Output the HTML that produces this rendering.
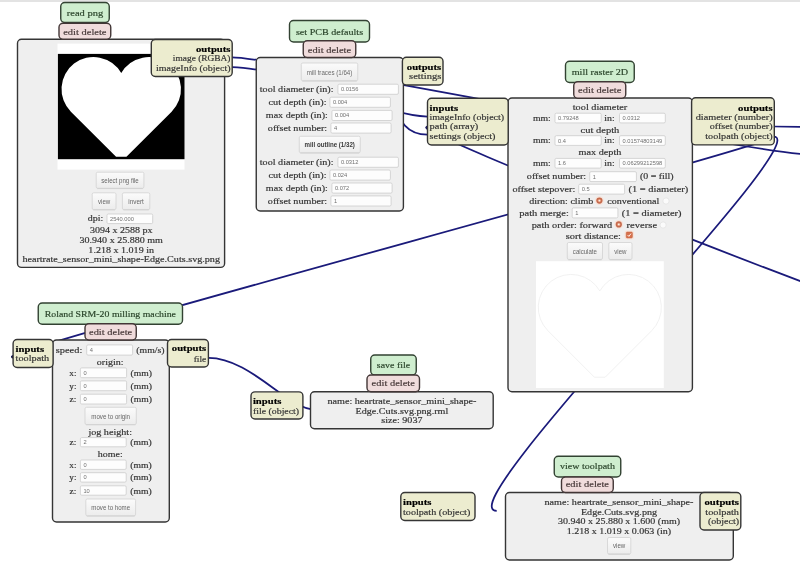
<!DOCTYPE html>
<html><head><meta charset="utf-8"><title>mods</title>
<style>html,body{margin:0;padding:0;width:800px;height:563px;overflow:hidden;background:#fff;}
body{position:relative;font-family:"Liberation Serif",serif;}</style></head>
<body>
<svg width="800" height="563" viewBox="0 0 800 563" style="position:absolute;left:0;top:0;will-change:transform">
<defs><linearGradient id="btn" x1="0" y1="0" x2="0" y2="1"><stop offset="0" stop-color="#fbfbfb"/><stop offset="1" stop-color="#ececec"/></linearGradient><radialGradient id="rad" cx="0.5" cy="0.5" r="0.5"><stop offset="0" stop-color="#f6f0ea"/><stop offset="0.45" stop-color="#8a5a40"/><stop offset="0.6" stop-color="#e07a4a"/><stop offset="1" stop-color="#e8946a"/></radialGradient></defs>
<rect x="0" y="0" width="800" height="563" fill="#fff"/>
<rect x="0" y="0" width="800" height="2" fill="#e3e3e3"/>
<path d="M232,57.3 C278.8,57.3 754.7,155.1 817.6,155.1" fill="none" stroke="#1a1a7a" stroke-width="1.75"/>
<path d="M232,67 C285.2,67 384.1,116.5 427.5,116.5" fill="none" stroke="#1a1a7a" stroke-width="1.75"/>
<path d="M402.5,77 C394.3,77 386.0,134.7 427.5,134.7" fill="none" stroke="#1a1a7a" stroke-width="1.75"/>
<path d="M773.5,136.5 C805.7,136.5 -23.5,357 13,357" fill="none" stroke="#1a1a7a" stroke-width="1.75"/>
<path d="M773.5,136.5 C819.5,136.5 444.5,510.8 496.7,510.8" fill="none" stroke="#1a1a7a" stroke-width="1.75"/>
<path d="M901.2,316.4 C882.7,316.4 400.8,127.4 427.5,127.4" fill="none" stroke="#1a1a7a" stroke-width="1.75"/>
<circle cx="427.0" cy="127.3" r="1.5" fill="#1a1a60"/>
<circle cx="12.9" cy="357.0" r="1.5" fill="#101030"/>
<path d="M773,126.5 C785,126.6 795,126.8 805,127" fill="none" stroke="#1a1a7a" stroke-width="1.75"/>
<path d="M208.4,357.75 C250.7,357.75 287.3,409.5 315,409.5" fill="none" stroke="#1a1a7a" stroke-width="1.75"/>
<rect x="17.50" y="39.25" width="207.10" height="228.15" rx="4" ry="4" fill="#efefef" stroke="#353535" stroke-width="1.4"/>
<rect x="57.5" y="43.6" width="127" height="126" fill="#fff"/>
<rect x="57.9" y="53.9" width="126.6" height="105.3" fill="#000"/>
<path d="M116.05,156.80 L70.87,111.63 A32.00,32.00 0 1 1 121.25,73.06 A32.00,32.00 0 1 1 171.63,111.63 L126.45,156.80 Z" fill="#fff" />
<rect x="96.20" y="172.20" width="47.70" height="16.10" rx="1.5" fill="url(#btn)" stroke="#d2d2d2" stroke-width="0.8"/>
<line x1="97.20" y1="188.60" x2="142.90" y2="188.60" stroke="#cfcfcf" stroke-width="0.8"/>
<text x="120.05" y="182.95" text-anchor="middle" font-family="Liberation Sans" font-size="6.30" fill="#666" textLength="37.49" lengthAdjust="spacingAndGlyphs">select png file</text>
<rect x="92.20" y="192.80" width="23.80" height="16.80" rx="1.5" fill="url(#btn)" stroke="#d2d2d2" stroke-width="0.8"/>
<line x1="93.20" y1="209.90" x2="115.00" y2="209.90" stroke="#cfcfcf" stroke-width="0.8"/>
<text x="104.10" y="203.90" text-anchor="middle" font-family="Liberation Sans" font-size="6.30" fill="#666" textLength="12.27" lengthAdjust="spacingAndGlyphs">view</text>
<rect x="122.40" y="192.80" width="27.40" height="16.80" rx="1.5" fill="url(#btn)" stroke="#d2d2d2" stroke-width="0.8"/>
<line x1="123.40" y1="209.90" x2="148.80" y2="209.90" stroke="#cfcfcf" stroke-width="0.8"/>
<text x="136.10" y="203.90" text-anchor="middle" font-family="Liberation Sans" font-size="6.30" fill="#666" textLength="15.57" lengthAdjust="spacingAndGlyphs">invert</text>
<text x="103.20" y="221.10" text-anchor="end" font-family="Liberation Serif" font-size="9.00" fill="#333" stroke="#333" stroke-width="0.18" textLength="15.50" lengthAdjust="spacingAndGlyphs">dpi:</text>
<rect x="107.00" y="214.00" width="45.70" height="9.60" rx="1.3" fill="#fdfdfd" stroke="#cacaca" stroke-width="0.75"/>
<text x="110.00" y="220.80" text-anchor="start" font-family="Liberation Sans" font-size="5.40" fill="#707070" textLength="23.86" lengthAdjust="spacingAndGlyphs">2540.000</text>
<text x="121.20" y="233.40" text-anchor="middle" font-family="Liberation Serif" font-size="9.00" fill="#333" stroke="#333" stroke-width="0.18" textLength="62.49" lengthAdjust="spacingAndGlyphs">3094 x 2588 px</text>
<text x="121.20" y="242.95" text-anchor="middle" font-family="Liberation Serif" font-size="9.00" fill="#333" stroke="#333" stroke-width="0.18" textLength="83.30" lengthAdjust="spacingAndGlyphs">30.940 x 25.880 mm</text>
<text x="121.20" y="252.50" text-anchor="middle" font-family="Liberation Serif" font-size="9.00" fill="#333" stroke="#333" stroke-width="0.18" textLength="65.66" lengthAdjust="spacingAndGlyphs">1.218 x 1.019 in</text>
<text x="121.20" y="262.05" text-anchor="middle" font-family="Liberation Serif" font-size="9.00" fill="#333" stroke="#333" stroke-width="0.18" textLength="197.60" lengthAdjust="spacingAndGlyphs">heartrate_sensor_mini_shape-Edge.Cuts.svg.png</text>
<rect x="60.75" y="2.50" width="48.50" height="20.00" rx="4" ry="4" fill="#cfeecf" stroke="#324232" stroke-width="1.4"/>
<text x="85.00" y="16.40" text-anchor="middle" font-family="Liberation Serif" font-size="9.00" fill="#2b452b" stroke="#2b452b" stroke-width="0.18" textLength="36.39" lengthAdjust="spacingAndGlyphs">read png</text>
<rect x="59.00" y="23.25" width="51.75" height="16.00" rx="4" ry="4" fill="#f0dcdc" stroke="#423636" stroke-width="1.4"/>
<text x="84.88" y="34.90" text-anchor="middle" font-family="Liberation Serif" font-size="9.00" fill="#463838" stroke="#463838" stroke-width="0.18" textLength="43.27" lengthAdjust="spacingAndGlyphs">edit delete</text>
<rect x="151.30" y="39.50" width="80.90" height="37.00" rx="4" ry="4" fill="#ececcf" stroke="#353535" stroke-width="1.4"/>
<text x="230.50" y="51.90" text-anchor="end" font-family="Liberation Serif" font-size="9.00" font-weight="bold" fill="#000" stroke="#000" stroke-width="0.18" textLength="34.46" lengthAdjust="spacingAndGlyphs">outputs</text>
<text x="230.50" y="61.30" text-anchor="end" font-family="Liberation Serif" font-size="9.00" fill="#333" stroke="#333" stroke-width="0.18" textLength="57.63" lengthAdjust="spacingAndGlyphs">image (RGBA)</text>
<text x="230.50" y="70.60" text-anchor="end" font-family="Liberation Serif" font-size="9.00" fill="#333" stroke="#333" stroke-width="0.18" textLength="74.49" lengthAdjust="spacingAndGlyphs">imageInfo (object)</text>
<rect x="256.25" y="57.50" width="147.15" height="153.50" rx="4" ry="4" fill="#efefef" stroke="#353535" stroke-width="1.4"/>
<rect x="301.25" y="63.00" width="56.50" height="17.75" rx="1.5" fill="url(#btn)" stroke="#d2d2d2" stroke-width="0.8"/>
<line x1="302.25" y1="81.05" x2="356.75" y2="81.05" stroke="#cfcfcf" stroke-width="0.8"/>
<text x="329.50" y="74.58" text-anchor="middle" font-family="Liberation Sans" font-size="6.30" fill="#6a6a6a" textLength="45.68" lengthAdjust="spacingAndGlyphs">mill traces (1/64)</text>
<text x="333.50" y="91.80" text-anchor="end" font-family="Liberation Serif" font-size="9.00" fill="#333" stroke="#333" stroke-width="0.18" textLength="73.69" lengthAdjust="spacingAndGlyphs">tool diameter (in):</text>
<rect x="337.90" y="84.20" width="60.50" height="10.10" rx="1.3" fill="#fdfdfd" stroke="#cacaca" stroke-width="0.75"/>
<text x="340.90" y="91.25" text-anchor="start" font-family="Liberation Sans" font-size="5.40" fill="#707070" textLength="17.50" lengthAdjust="spacingAndGlyphs">0.0156</text>
<text x="326.50" y="104.80" text-anchor="end" font-family="Liberation Serif" font-size="9.00" fill="#333" stroke="#333" stroke-width="0.18" textLength="57.93" lengthAdjust="spacingAndGlyphs">cut depth (in):</text>
<rect x="329.90" y="97.20" width="60.50" height="10.10" rx="1.3" fill="#fdfdfd" stroke="#cacaca" stroke-width="0.75"/>
<text x="332.90" y="104.25" text-anchor="start" font-family="Liberation Sans" font-size="5.40" fill="#707070" textLength="14.31" lengthAdjust="spacingAndGlyphs">0.004</text>
<text x="327.80" y="118.00" text-anchor="end" font-family="Liberation Serif" font-size="9.00" fill="#333" stroke="#333" stroke-width="0.18" textLength="61.95" lengthAdjust="spacingAndGlyphs">max depth (in):</text>
<rect x="331.90" y="110.40" width="60.20" height="10.10" rx="1.3" fill="#fdfdfd" stroke="#cacaca" stroke-width="0.75"/>
<text x="334.90" y="117.45" text-anchor="start" font-family="Liberation Sans" font-size="5.40" fill="#707070" textLength="14.31" lengthAdjust="spacingAndGlyphs">0.004</text>
<text x="327.20" y="130.60" text-anchor="end" font-family="Liberation Serif" font-size="9.00" fill="#333" stroke="#333" stroke-width="0.18" textLength="59.36" lengthAdjust="spacingAndGlyphs">offset number:</text>
<rect x="330.90" y="123.00" width="60.20" height="10.10" rx="1.3" fill="#fdfdfd" stroke="#cacaca" stroke-width="0.75"/>
<text x="333.90" y="130.05" text-anchor="start" font-family="Liberation Sans" font-size="5.40" fill="#707070" textLength="3.18" lengthAdjust="spacingAndGlyphs">4</text>
<rect x="299.25" y="136.25" width="61.00" height="16.50" rx="1.5" fill="url(#btn)" stroke="#d2d2d2" stroke-width="0.8"/>
<line x1="300.25" y1="153.05" x2="359.25" y2="153.05" stroke="#cfcfcf" stroke-width="0.8"/>
<text x="329.75" y="147.20" text-anchor="middle" font-family="Liberation Sans" font-size="6.30" font-weight="bold" fill="#3a3a3a" textLength="50.30" lengthAdjust="spacingAndGlyphs">mill outline (1/32)</text>
<text x="333.50" y="164.80" text-anchor="end" font-family="Liberation Serif" font-size="9.00" fill="#333" stroke="#333" stroke-width="0.18" textLength="73.69" lengthAdjust="spacingAndGlyphs">tool diameter (in):</text>
<rect x="337.90" y="157.20" width="60.50" height="10.10" rx="1.3" fill="#fdfdfd" stroke="#cacaca" stroke-width="0.75"/>
<text x="340.90" y="164.25" text-anchor="start" font-family="Liberation Sans" font-size="5.40" fill="#707070" textLength="17.50" lengthAdjust="spacingAndGlyphs">0.0312</text>
<text x="326.50" y="177.60" text-anchor="end" font-family="Liberation Serif" font-size="9.00" fill="#333" stroke="#333" stroke-width="0.18" textLength="57.93" lengthAdjust="spacingAndGlyphs">cut depth (in):</text>
<rect x="329.90" y="170.00" width="60.50" height="10.10" rx="1.3" fill="#fdfdfd" stroke="#cacaca" stroke-width="0.75"/>
<text x="332.90" y="177.05" text-anchor="start" font-family="Liberation Sans" font-size="5.40" fill="#707070" textLength="14.31" lengthAdjust="spacingAndGlyphs">0.024</text>
<text x="327.80" y="190.60" text-anchor="end" font-family="Liberation Serif" font-size="9.00" fill="#333" stroke="#333" stroke-width="0.18" textLength="61.95" lengthAdjust="spacingAndGlyphs">max depth (in):</text>
<rect x="331.90" y="183.00" width="60.20" height="10.10" rx="1.3" fill="#fdfdfd" stroke="#cacaca" stroke-width="0.75"/>
<text x="334.90" y="190.05" text-anchor="start" font-family="Liberation Sans" font-size="5.40" fill="#707070" textLength="14.31" lengthAdjust="spacingAndGlyphs">0.072</text>
<text x="327.20" y="203.50" text-anchor="end" font-family="Liberation Serif" font-size="9.00" fill="#333" stroke="#333" stroke-width="0.18" textLength="59.36" lengthAdjust="spacingAndGlyphs">offset number:</text>
<rect x="330.90" y="195.90" width="60.20" height="10.10" rx="1.3" fill="#fdfdfd" stroke="#cacaca" stroke-width="0.75"/>
<text x="333.90" y="202.95" text-anchor="start" font-family="Liberation Sans" font-size="5.40" fill="#707070" textLength="3.18" lengthAdjust="spacingAndGlyphs">1</text>
<rect x="289.50" y="20.50" width="80.00" height="21.50" rx="4" ry="4" fill="#cfeecf" stroke="#324232" stroke-width="1.4"/>
<text x="329.50" y="34.90" text-anchor="middle" font-family="Liberation Serif" font-size="9.00" fill="#2b452b" stroke="#2b452b" stroke-width="0.18" textLength="67.14" lengthAdjust="spacingAndGlyphs">set PCB defaults</text>
<rect x="303.25" y="40.75" width="52.50" height="16.75" rx="4" ry="4" fill="#f0dcdc" stroke="#423636" stroke-width="1.4"/>
<text x="329.50" y="52.60" text-anchor="middle" font-family="Liberation Serif" font-size="9.00" fill="#463838" stroke="#463838" stroke-width="0.18" textLength="43.27" lengthAdjust="spacingAndGlyphs">edit delete</text>
<rect x="402.40" y="57.20" width="40.60" height="27.80" rx="4" ry="4" fill="#ececcf" stroke="#353535" stroke-width="1.4"/>
<text x="441.30" y="70.10" text-anchor="end" font-family="Liberation Serif" font-size="9.00" font-weight="bold" fill="#000" stroke="#000" stroke-width="0.18" textLength="34.46" lengthAdjust="spacingAndGlyphs">outputs</text>
<text x="441.30" y="79.40" text-anchor="end" font-family="Liberation Serif" font-size="9.00" fill="#333" stroke="#333" stroke-width="0.18" textLength="32.21" lengthAdjust="spacingAndGlyphs">settings</text>
<rect x="508.00" y="98.00" width="184.40" height="293.80" rx="4" ry="4" fill="#efefef" stroke="#353535" stroke-width="1.4"/>
<text x="600.00" y="110.40" text-anchor="middle" font-family="Liberation Serif" font-size="9.00" fill="#333" stroke="#333" stroke-width="0.18" textLength="54.49" lengthAdjust="spacingAndGlyphs">tool diameter</text>
<text x="600.00" y="132.90" text-anchor="middle" font-family="Liberation Serif" font-size="9.00" fill="#333" stroke="#333" stroke-width="0.18" textLength="38.73" lengthAdjust="spacingAndGlyphs">cut depth</text>
<text x="600.00" y="155.40" text-anchor="middle" font-family="Liberation Serif" font-size="9.00" fill="#333" stroke="#333" stroke-width="0.18" textLength="42.76" lengthAdjust="spacingAndGlyphs">max depth</text>
<text x="550.80" y="120.80" text-anchor="end" font-family="Liberation Serif" font-size="9.00" fill="#333" stroke="#333" stroke-width="0.18" textLength="17.87" lengthAdjust="spacingAndGlyphs">mm:</text>
<rect x="555.00" y="113.20" width="46.20" height="9.70" rx="1.3" fill="#fdfdfd" stroke="#cacaca" stroke-width="0.75"/>
<text x="558.00" y="120.05" text-anchor="start" font-family="Liberation Sans" font-size="5.40" fill="#707070" textLength="20.68" lengthAdjust="spacingAndGlyphs">0.79248</text>
<text x="604.30" y="120.80" text-anchor="start" font-family="Liberation Serif" font-size="9.00" fill="#333" stroke="#333" stroke-width="0.18" textLength="10.41" lengthAdjust="spacingAndGlyphs">in:</text>
<rect x="619.50" y="113.20" width="45.80" height="9.70" rx="1.3" fill="#fdfdfd" stroke="#cacaca" stroke-width="0.75"/>
<text x="622.50" y="120.05" text-anchor="start" font-family="Liberation Sans" font-size="5.40" fill="#707070" textLength="17.50" lengthAdjust="spacingAndGlyphs">0.0312</text>
<text x="550.80" y="143.30" text-anchor="end" font-family="Liberation Serif" font-size="9.00" fill="#333" stroke="#333" stroke-width="0.18" textLength="17.87" lengthAdjust="spacingAndGlyphs">mm:</text>
<rect x="555.00" y="135.70" width="46.20" height="9.70" rx="1.3" fill="#fdfdfd" stroke="#cacaca" stroke-width="0.75"/>
<text x="558.00" y="142.55" text-anchor="start" font-family="Liberation Sans" font-size="5.40" fill="#707070" textLength="7.95" lengthAdjust="spacingAndGlyphs">0.4</text>
<text x="604.30" y="143.30" text-anchor="start" font-family="Liberation Serif" font-size="9.00" fill="#333" stroke="#333" stroke-width="0.18" textLength="10.41" lengthAdjust="spacingAndGlyphs">in:</text>
<rect x="619.50" y="135.70" width="45.80" height="9.70" rx="1.3" fill="#fdfdfd" stroke="#cacaca" stroke-width="0.75"/>
<text x="622.50" y="142.55" text-anchor="start" font-family="Liberation Sans" font-size="5.40" fill="#707070" textLength="39.76" lengthAdjust="spacingAndGlyphs">0.01574803149</text>
<text x="550.80" y="166.00" text-anchor="end" font-family="Liberation Serif" font-size="9.00" fill="#333" stroke="#333" stroke-width="0.18" textLength="17.87" lengthAdjust="spacingAndGlyphs">mm:</text>
<rect x="555.00" y="158.40" width="46.20" height="9.70" rx="1.3" fill="#fdfdfd" stroke="#cacaca" stroke-width="0.75"/>
<text x="558.00" y="165.25" text-anchor="start" font-family="Liberation Sans" font-size="5.40" fill="#707070" textLength="7.95" lengthAdjust="spacingAndGlyphs">1.6</text>
<text x="604.30" y="166.00" text-anchor="start" font-family="Liberation Serif" font-size="9.00" fill="#333" stroke="#333" stroke-width="0.18" textLength="10.41" lengthAdjust="spacingAndGlyphs">in:</text>
<rect x="619.50" y="158.40" width="45.80" height="9.70" rx="1.3" fill="#fdfdfd" stroke="#cacaca" stroke-width="0.75"/>
<text x="622.50" y="165.25" text-anchor="start" font-family="Liberation Sans" font-size="5.40" fill="#707070" textLength="39.76" lengthAdjust="spacingAndGlyphs">0.06299212598</text>
<text x="586.20" y="179.20" text-anchor="end" font-family="Liberation Serif" font-size="9.00" fill="#333" stroke="#333" stroke-width="0.18" textLength="59.36" lengthAdjust="spacingAndGlyphs">offset number:</text>
<rect x="589.70" y="171.70" width="46.70" height="9.90" rx="1.3" fill="#fdfdfd" stroke="#cacaca" stroke-width="0.75"/>
<text x="592.70" y="178.65" text-anchor="start" font-family="Liberation Sans" font-size="5.40" fill="#707070" textLength="3.18" lengthAdjust="spacingAndGlyphs">1</text>
<text x="640.00" y="179.20" text-anchor="start" font-family="Liberation Serif" font-size="9.00" fill="#333" stroke="#333" stroke-width="0.18" textLength="33.58" lengthAdjust="spacingAndGlyphs">(0 = fill)</text>
<text x="575.30" y="191.90" text-anchor="end" font-family="Liberation Serif" font-size="9.00" fill="#333" stroke="#333" stroke-width="0.18" textLength="62.86" lengthAdjust="spacingAndGlyphs">offset stepover:</text>
<rect x="578.70" y="184.20" width="45.90" height="9.90" rx="1.3" fill="#fdfdfd" stroke="#cacaca" stroke-width="0.75"/>
<text x="581.70" y="191.15" text-anchor="start" font-family="Liberation Sans" font-size="5.40" fill="#707070" textLength="7.95" lengthAdjust="spacingAndGlyphs">0.5</text>
<text x="628.60" y="191.90" text-anchor="start" font-family="Liberation Serif" font-size="9.00" fill="#333" stroke="#333" stroke-width="0.18" textLength="59.67" lengthAdjust="spacingAndGlyphs">(1 = diameter)</text>
<text x="593.30" y="204.40" text-anchor="end" font-family="Liberation Serif" font-size="9.00" fill="#333" stroke="#333" stroke-width="0.18" textLength="64.00" lengthAdjust="spacingAndGlyphs">direction: climb</text>
<text x="607.30" y="204.40" text-anchor="start" font-family="Liberation Serif" font-size="9.00" fill="#333" stroke="#333" stroke-width="0.18" textLength="51.93" lengthAdjust="spacingAndGlyphs">conventional</text>
<text x="568.80" y="215.80" text-anchor="end" font-family="Liberation Serif" font-size="9.00" fill="#333" stroke="#333" stroke-width="0.18" textLength="49.50" lengthAdjust="spacingAndGlyphs">path merge:</text>
<rect x="572.20" y="207.90" width="45.70" height="10.00" rx="1.3" fill="#fdfdfd" stroke="#cacaca" stroke-width="0.75"/>
<text x="575.20" y="214.90" text-anchor="start" font-family="Liberation Sans" font-size="5.40" fill="#707070" textLength="3.18" lengthAdjust="spacingAndGlyphs">1</text>
<text x="621.80" y="215.80" text-anchor="start" font-family="Liberation Serif" font-size="9.00" fill="#333" stroke="#333" stroke-width="0.18" textLength="59.67" lengthAdjust="spacingAndGlyphs">(1 = diameter)</text>
<text x="612.20" y="228.20" text-anchor="end" font-family="Liberation Serif" font-size="9.00" fill="#333" stroke="#333" stroke-width="0.18" textLength="80.52" lengthAdjust="spacingAndGlyphs">path order: forward</text>
<text x="626.60" y="228.20" text-anchor="start" font-family="Liberation Serif" font-size="9.00" fill="#333" stroke="#333" stroke-width="0.18" textLength="30.48" lengthAdjust="spacingAndGlyphs">reverse</text>
<text x="621.00" y="238.80" text-anchor="end" font-family="Liberation Serif" font-size="9.00" fill="#333" stroke="#333" stroke-width="0.18" textLength="55.34" lengthAdjust="spacingAndGlyphs">sort distance:</text>
<circle cx="599.4" cy="200.6" r="4.4" fill="#f7e2d8"/>
<circle cx="599.4" cy="200.6" r="3.1" fill="#c4694c"/>
<circle cx="599.4" cy="200.6" r="1.7" fill="#e59474"/>
<circle cx="599.4" cy="200.6" r="0.9" fill="#fbeee6"/>
<circle cx="666.0" cy="201.0" r="3.1" fill="#fbfbfb" stroke="#dedede" stroke-width="0.6"/>
<circle cx="618.8" cy="224.4" r="4.4" fill="#f7e2d8"/>
<circle cx="618.8" cy="224.4" r="3.1" fill="#c4694c"/>
<circle cx="618.8" cy="224.4" r="1.7" fill="#e59474"/>
<circle cx="618.8" cy="224.4" r="0.9" fill="#fbeee6"/>
<circle cx="663.1" cy="225.0" r="3.1" fill="#fbfbfb" stroke="#dedede" stroke-width="0.6"/>
<rect x="624.6" y="230.6" width="9.4" height="9.0" rx="2.5" fill="#f7e2d8"/>
<rect x="626.2" y="232.0" width="6.2" height="6.0" rx="1" fill="#d6704c" stroke="#c0603c" stroke-width="0.5"/>
<path d="M627.6,235.0 L628.9,236.4 L631.0,233.6" fill="none" stroke="#fff" stroke-width="0.9"/>
<rect x="567.30" y="242.50" width="35.20" height="17.00" rx="1.5" fill="url(#btn)" stroke="#d2d2d2" stroke-width="0.8"/>
<line x1="568.30" y1="259.80" x2="601.50" y2="259.80" stroke="#cfcfcf" stroke-width="0.8"/>
<text x="584.90" y="253.70" text-anchor="middle" font-family="Liberation Sans" font-size="6.30" fill="#666" textLength="24.10" lengthAdjust="spacingAndGlyphs">calculate</text>
<rect x="608.80" y="242.50" width="23.20" height="17.00" rx="1.5" fill="url(#btn)" stroke="#d2d2d2" stroke-width="0.8"/>
<line x1="609.80" y1="259.80" x2="631.00" y2="259.80" stroke="#cfcfcf" stroke-width="0.8"/>
<text x="620.40" y="253.70" text-anchor="middle" font-family="Liberation Sans" font-size="6.30" fill="#666" textLength="12.27" lengthAdjust="spacingAndGlyphs">view</text>
<rect x="536.0" y="261.2" width="127.8" height="126.8" fill="#fff"/>
<path d="M594.44,377.22 L547.91,330.70 A32.96,32.96 0 1 1 599.80,290.98 A32.96,32.96 0 1 1 651.69,330.70 L605.16,377.22 Z" fill="none" stroke="#ededed" stroke-width="0.8"/>
<rect x="565.50" y="61.25" width="68.75" height="21.25" rx="4" ry="4" fill="#cfeecf" stroke="#324232" stroke-width="1.4"/>
<text x="599.88" y="74.80" text-anchor="middle" font-family="Liberation Serif" font-size="9.00" fill="#2b452b" stroke="#2b452b" stroke-width="0.18" textLength="56.32" lengthAdjust="spacingAndGlyphs">mill raster 2D</text>
<rect x="573.75" y="81.75" width="52.00" height="16.50" rx="4" ry="4" fill="#f0dcdc" stroke="#423636" stroke-width="1.4"/>
<text x="599.75" y="93.20" text-anchor="middle" font-family="Liberation Serif" font-size="9.00" fill="#463838" stroke="#463838" stroke-width="0.18" textLength="43.27" lengthAdjust="spacingAndGlyphs">edit delete</text>
<rect x="427.50" y="98.30" width="80.70" height="46.70" rx="4" ry="4" fill="#ececcf" stroke="#353535" stroke-width="1.4"/>
<text x="429.60" y="110.60" text-anchor="start" font-family="Liberation Serif" font-size="9.00" font-weight="bold" fill="#000" stroke="#000" stroke-width="0.18" textLength="28.46" lengthAdjust="spacingAndGlyphs">inputs</text>
<text x="429.60" y="120.10" text-anchor="start" font-family="Liberation Serif" font-size="9.00" fill="#333" stroke="#333" stroke-width="0.18" textLength="74.49" lengthAdjust="spacingAndGlyphs">imageInfo (object)</text>
<text x="429.60" y="129.40" text-anchor="start" font-family="Liberation Serif" font-size="9.00" fill="#333" stroke="#333" stroke-width="0.18" textLength="48.75" lengthAdjust="spacingAndGlyphs">path (array)</text>
<text x="429.60" y="138.80" text-anchor="start" font-family="Liberation Serif" font-size="9.00" fill="#333" stroke="#333" stroke-width="0.18" textLength="65.84" lengthAdjust="spacingAndGlyphs">settings (object)</text>
<rect x="691.60" y="97.80" width="82.70" height="47.10" rx="4" ry="4" fill="#ececcf" stroke="#353535" stroke-width="1.4"/>
<text x="772.60" y="110.80" text-anchor="end" font-family="Liberation Serif" font-size="9.00" font-weight="bold" fill="#000" stroke="#000" stroke-width="0.18" textLength="34.46" lengthAdjust="spacingAndGlyphs">outputs</text>
<text x="772.60" y="120.00" text-anchor="end" font-family="Liberation Serif" font-size="9.00" fill="#333" stroke="#333" stroke-width="0.18" textLength="76.90" lengthAdjust="spacingAndGlyphs">diameter (number)</text>
<text x="772.60" y="129.40" text-anchor="end" font-family="Liberation Serif" font-size="9.00" fill="#333" stroke="#333" stroke-width="0.18" textLength="62.91" lengthAdjust="spacingAndGlyphs">offset (number)</text>
<text x="772.60" y="138.80" text-anchor="end" font-family="Liberation Serif" font-size="9.00" fill="#333" stroke="#333" stroke-width="0.18" textLength="67.30" lengthAdjust="spacingAndGlyphs">toolpath (object)</text>
<rect x="52.50" y="340.00" width="116.80" height="182.00" rx="4" ry="4" fill="#efefef" stroke="#353535" stroke-width="1.4"/>
<text x="82.30" y="353.20" text-anchor="end" font-family="Liberation Serif" font-size="9.00" fill="#333" stroke="#333" stroke-width="0.18" textLength="26.51" lengthAdjust="spacingAndGlyphs">speed:</text>
<rect x="86.70" y="344.90" width="45.90" height="10.20" rx="1.3" fill="#fdfdfd" stroke="#cacaca" stroke-width="0.75"/>
<text x="89.70" y="352.00" text-anchor="start" font-family="Liberation Sans" font-size="5.40" fill="#707070" textLength="3.18" lengthAdjust="spacingAndGlyphs">4</text>
<text x="136.30" y="353.20" text-anchor="start" font-family="Liberation Serif" font-size="9.00" fill="#333" stroke="#333" stroke-width="0.18" textLength="28.21" lengthAdjust="spacingAndGlyphs">(mm/s)</text>
<text x="110.20" y="365.20" text-anchor="middle" font-family="Liberation Serif" font-size="9.00" fill="#333" stroke="#333" stroke-width="0.18" textLength="26.73" lengthAdjust="spacingAndGlyphs">origin:</text>
<text x="76.50" y="375.70" text-anchor="end" font-family="Liberation Serif" font-size="9.00" fill="#333" stroke="#333" stroke-width="0.18" textLength="7.21" lengthAdjust="spacingAndGlyphs">x:</text>
<rect x="80.40" y="367.90" width="46.20" height="9.80" rx="1.3" fill="#fdfdfd" stroke="#cacaca" stroke-width="0.75"/>
<text x="83.40" y="374.80" text-anchor="start" font-family="Liberation Sans" font-size="5.40" fill="#707070" textLength="3.18" lengthAdjust="spacingAndGlyphs">0</text>
<text x="130.50" y="375.70" text-anchor="start" font-family="Liberation Serif" font-size="9.00" fill="#333" stroke="#333" stroke-width="0.18" textLength="21.41" lengthAdjust="spacingAndGlyphs">(mm)</text>
<text x="76.50" y="388.70" text-anchor="end" font-family="Liberation Serif" font-size="9.00" fill="#333" stroke="#333" stroke-width="0.18" textLength="7.21" lengthAdjust="spacingAndGlyphs">y:</text>
<rect x="80.40" y="380.90" width="46.20" height="9.80" rx="1.3" fill="#fdfdfd" stroke="#cacaca" stroke-width="0.75"/>
<text x="83.40" y="387.80" text-anchor="start" font-family="Liberation Sans" font-size="5.40" fill="#707070" textLength="3.18" lengthAdjust="spacingAndGlyphs">0</text>
<text x="130.50" y="388.70" text-anchor="start" font-family="Liberation Serif" font-size="9.00" fill="#333" stroke="#333" stroke-width="0.18" textLength="21.41" lengthAdjust="spacingAndGlyphs">(mm)</text>
<text x="76.50" y="402.00" text-anchor="end" font-family="Liberation Serif" font-size="9.00" fill="#333" stroke="#333" stroke-width="0.18" textLength="6.91" lengthAdjust="spacingAndGlyphs">z:</text>
<rect x="80.40" y="394.20" width="46.20" height="9.80" rx="1.3" fill="#fdfdfd" stroke="#cacaca" stroke-width="0.75"/>
<text x="83.40" y="401.10" text-anchor="start" font-family="Liberation Sans" font-size="5.40" fill="#707070" textLength="3.18" lengthAdjust="spacingAndGlyphs">0</text>
<text x="130.50" y="402.00" text-anchor="start" font-family="Liberation Serif" font-size="9.00" fill="#333" stroke="#333" stroke-width="0.18" textLength="21.41" lengthAdjust="spacingAndGlyphs">(mm)</text>
<rect x="85.00" y="407.30" width="51.30" height="17.20" rx="1.5" fill="url(#btn)" stroke="#d2d2d2" stroke-width="0.8"/>
<line x1="86.00" y1="424.80" x2="135.30" y2="424.80" stroke="#cfcfcf" stroke-width="0.8"/>
<text x="110.65" y="418.60" text-anchor="middle" font-family="Liberation Sans" font-size="6.30" fill="#666" textLength="38.80" lengthAdjust="spacingAndGlyphs">move to origin</text>
<text x="110.20" y="434.60" text-anchor="middle" font-family="Liberation Serif" font-size="9.00" fill="#333" stroke="#333" stroke-width="0.18" textLength="43.59" lengthAdjust="spacingAndGlyphs">jog height:</text>
<text x="76.50" y="445.40" text-anchor="end" font-family="Liberation Serif" font-size="9.00" fill="#333" stroke="#333" stroke-width="0.18" textLength="6.91" lengthAdjust="spacingAndGlyphs">z:</text>
<rect x="80.40" y="437.60" width="45.80" height="9.20" rx="1.3" fill="#fdfdfd" stroke="#cacaca" stroke-width="0.75"/>
<text x="83.40" y="444.20" text-anchor="start" font-family="Liberation Sans" font-size="5.40" fill="#707070" textLength="3.18" lengthAdjust="spacingAndGlyphs">2</text>
<text x="130.20" y="445.40" text-anchor="start" font-family="Liberation Serif" font-size="9.00" fill="#333" stroke="#333" stroke-width="0.18" textLength="21.41" lengthAdjust="spacingAndGlyphs">(mm)</text>
<text x="110.20" y="456.60" text-anchor="middle" font-family="Liberation Serif" font-size="9.00" fill="#333" stroke="#333" stroke-width="0.18" textLength="24.98" lengthAdjust="spacingAndGlyphs">home:</text>
<text x="76.50" y="467.70" text-anchor="end" font-family="Liberation Serif" font-size="9.00" fill="#333" stroke="#333" stroke-width="0.18" textLength="7.21" lengthAdjust="spacingAndGlyphs">x:</text>
<rect x="80.40" y="460.00" width="45.80" height="9.40" rx="1.3" fill="#fdfdfd" stroke="#cacaca" stroke-width="0.75"/>
<text x="83.40" y="466.70" text-anchor="start" font-family="Liberation Sans" font-size="5.40" fill="#707070" textLength="3.18" lengthAdjust="spacingAndGlyphs">0</text>
<text x="130.20" y="467.70" text-anchor="start" font-family="Liberation Serif" font-size="9.00" fill="#333" stroke="#333" stroke-width="0.18" textLength="21.41" lengthAdjust="spacingAndGlyphs">(mm)</text>
<text x="76.50" y="480.40" text-anchor="end" font-family="Liberation Serif" font-size="9.00" fill="#333" stroke="#333" stroke-width="0.18" textLength="7.21" lengthAdjust="spacingAndGlyphs">y:</text>
<rect x="80.40" y="472.70" width="45.80" height="9.40" rx="1.3" fill="#fdfdfd" stroke="#cacaca" stroke-width="0.75"/>
<text x="83.40" y="479.40" text-anchor="start" font-family="Liberation Sans" font-size="5.40" fill="#707070" textLength="3.18" lengthAdjust="spacingAndGlyphs">0</text>
<text x="130.20" y="480.40" text-anchor="start" font-family="Liberation Serif" font-size="9.00" fill="#333" stroke="#333" stroke-width="0.18" textLength="21.41" lengthAdjust="spacingAndGlyphs">(mm)</text>
<text x="76.50" y="493.50" text-anchor="end" font-family="Liberation Serif" font-size="9.00" fill="#333" stroke="#333" stroke-width="0.18" textLength="6.91" lengthAdjust="spacingAndGlyphs">z:</text>
<rect x="80.40" y="485.80" width="45.80" height="9.40" rx="1.3" fill="#fdfdfd" stroke="#cacaca" stroke-width="0.75"/>
<text x="83.40" y="492.50" text-anchor="start" font-family="Liberation Sans" font-size="5.40" fill="#707070" textLength="6.36" lengthAdjust="spacingAndGlyphs">10</text>
<text x="130.20" y="493.50" text-anchor="start" font-family="Liberation Serif" font-size="9.00" fill="#333" stroke="#333" stroke-width="0.18" textLength="21.41" lengthAdjust="spacingAndGlyphs">(mm)</text>
<rect x="85.80" y="499.00" width="49.80" height="16.80" rx="1.5" fill="url(#btn)" stroke="#d2d2d2" stroke-width="0.8"/>
<line x1="86.80" y1="516.10" x2="134.60" y2="516.10" stroke="#cfcfcf" stroke-width="0.8"/>
<text x="110.70" y="510.10" text-anchor="middle" font-family="Liberation Sans" font-size="6.30" fill="#666" textLength="38.74" lengthAdjust="spacingAndGlyphs">move to home</text>
<rect x="38.25" y="303.00" width="144.25" height="21.25" rx="4" ry="4" fill="#cfeecf" stroke="#324232" stroke-width="1.4"/>
<text x="110.38" y="316.70" text-anchor="middle" font-family="Liberation Serif" font-size="9.00" fill="#2b452b" stroke="#2b452b" stroke-width="0.18" textLength="131.18" lengthAdjust="spacingAndGlyphs">Roland SRM-20 milling machine</text>
<rect x="85.00" y="323.75" width="51.25" height="16.25" rx="4" ry="4" fill="#f0dcdc" stroke="#423636" stroke-width="1.4"/>
<text x="110.62" y="335.20" text-anchor="middle" font-family="Liberation Serif" font-size="9.00" fill="#463838" stroke="#463838" stroke-width="0.18" textLength="43.27" lengthAdjust="spacingAndGlyphs">edit delete</text>
<rect x="13.10" y="339.50" width="40.00" height="28.00" rx="4" ry="4" fill="#ececcf" stroke="#353535" stroke-width="1.4"/>
<text x="15.60" y="351.90" text-anchor="start" font-family="Liberation Serif" font-size="9.00" font-weight="bold" fill="#000" stroke="#000" stroke-width="0.18" textLength="28.46" lengthAdjust="spacingAndGlyphs">inputs</text>
<text x="15.60" y="361.20" text-anchor="start" font-family="Liberation Serif" font-size="9.00" fill="#333" stroke="#333" stroke-width="0.18" textLength="33.66" lengthAdjust="spacingAndGlyphs">toolpath</text>
<rect x="167.50" y="339.50" width="40.90" height="27.50" rx="4" ry="4" fill="#ececcf" stroke="#353535" stroke-width="1.4"/>
<text x="206.30" y="351.30" text-anchor="end" font-family="Liberation Serif" font-size="9.00" font-weight="bold" fill="#000" stroke="#000" stroke-width="0.18" textLength="34.46" lengthAdjust="spacingAndGlyphs">outputs</text>
<text x="206.30" y="361.60" text-anchor="end" font-family="Liberation Serif" font-size="9.00" fill="#333" stroke="#333" stroke-width="0.18" textLength="12.63" lengthAdjust="spacingAndGlyphs">file</text>
<rect x="310.50" y="391.80" width="182.70" height="37.00" rx="4" ry="4" fill="#efefef" stroke="#353535" stroke-width="1.4"/>
<text x="401.90" y="404.40" text-anchor="middle" font-family="Liberation Serif" font-size="9.00" fill="#333" stroke="#333" stroke-width="0.18" textLength="148.90" lengthAdjust="spacingAndGlyphs">name: heartrate_sensor_mini_shape-</text>
<text x="401.90" y="413.60" text-anchor="middle" font-family="Liberation Serif" font-size="9.00" fill="#333" stroke="#333" stroke-width="0.18" textLength="92.69" lengthAdjust="spacingAndGlyphs">Edge.Cuts.svg.png.rml</text>
<text x="401.90" y="423.10" text-anchor="middle" font-family="Liberation Serif" font-size="9.00" fill="#333" stroke="#333" stroke-width="0.18" textLength="41.21" lengthAdjust="spacingAndGlyphs">size: 9037</text>
<rect x="370.75" y="355.00" width="45.50" height="20.00" rx="4" ry="4" fill="#cfeecf" stroke="#324232" stroke-width="1.4"/>
<text x="393.50" y="368.20" text-anchor="middle" font-family="Liberation Serif" font-size="9.00" fill="#2b452b" stroke="#2b452b" stroke-width="0.18" textLength="33.30" lengthAdjust="spacingAndGlyphs">save file</text>
<rect x="367.00" y="375.00" width="52.50" height="16.80" rx="4" ry="4" fill="#f0dcdc" stroke="#423636" stroke-width="1.4"/>
<text x="393.25" y="386.40" text-anchor="middle" font-family="Liberation Serif" font-size="9.00" fill="#463838" stroke="#463838" stroke-width="0.18" textLength="43.27" lengthAdjust="spacingAndGlyphs">edit delete</text>
<rect x="251.00" y="391.90" width="51.90" height="27.10" rx="4" ry="4" fill="#ececcf" stroke="#353535" stroke-width="1.4"/>
<text x="252.90" y="403.70" text-anchor="start" font-family="Liberation Serif" font-size="9.00" font-weight="bold" fill="#000" stroke="#000" stroke-width="0.18" textLength="28.46" lengthAdjust="spacingAndGlyphs">inputs</text>
<text x="252.90" y="413.60" text-anchor="start" font-family="Liberation Serif" font-size="9.00" fill="#333" stroke="#333" stroke-width="0.18" textLength="46.26" lengthAdjust="spacingAndGlyphs">file (object)</text>
<rect x="505.50" y="492.50" width="227.80" height="67.50" rx="4" ry="4" fill="#efefef" stroke="#353535" stroke-width="1.4"/>
<text x="619.00" y="505.10" text-anchor="middle" font-family="Liberation Serif" font-size="9.00" fill="#333" stroke="#333" stroke-width="0.18" textLength="148.90" lengthAdjust="spacingAndGlyphs">name: heartrate_sensor_mini_shape-</text>
<text x="619.00" y="514.60" text-anchor="middle" font-family="Liberation Serif" font-size="9.00" fill="#333" stroke="#333" stroke-width="0.18" textLength="76.18" lengthAdjust="spacingAndGlyphs">Edge.Cuts.svg.png</text>
<text x="619.00" y="524.10" text-anchor="middle" font-family="Liberation Serif" font-size="9.00" fill="#333" stroke="#333" stroke-width="0.18" textLength="122.04" lengthAdjust="spacingAndGlyphs">30.940 x 25.880 x 1.600 (mm)</text>
<text x="619.00" y="533.60" text-anchor="middle" font-family="Liberation Serif" font-size="9.00" fill="#333" stroke="#333" stroke-width="0.18" textLength="104.40" lengthAdjust="spacingAndGlyphs">1.218 x 1.019 x 0.063 (in)</text>
<rect x="607.50" y="537.50" width="23.30" height="16.50" rx="1.5" fill="url(#btn)" stroke="#d2d2d2" stroke-width="0.8"/>
<line x1="608.50" y1="554.30" x2="629.80" y2="554.30" stroke="#cfcfcf" stroke-width="0.8"/>
<text x="619.15" y="548.45" text-anchor="middle" font-family="Liberation Sans" font-size="6.30" fill="#666" textLength="12.27" lengthAdjust="spacingAndGlyphs">view</text>
<rect x="554.25" y="456.25" width="66.50" height="20.75" rx="4" ry="4" fill="#cfeecf" stroke="#324232" stroke-width="1.4"/>
<text x="587.50" y="468.80" text-anchor="middle" font-family="Liberation Serif" font-size="9.00" fill="#2b452b" stroke="#2b452b" stroke-width="0.18" textLength="54.87" lengthAdjust="spacingAndGlyphs">view toolpath</text>
<rect x="561.50" y="477.00" width="51.75" height="15.50" rx="4" ry="4" fill="#f0dcdc" stroke="#423636" stroke-width="1.4"/>
<text x="587.38" y="487.40" text-anchor="middle" font-family="Liberation Serif" font-size="9.00" fill="#463838" stroke="#463838" stroke-width="0.18" textLength="43.27" lengthAdjust="spacingAndGlyphs">edit delete</text>
<rect x="400.80" y="492.50" width="74.20" height="28.00" rx="4" ry="4" fill="#ececcf" stroke="#353535" stroke-width="1.4"/>
<text x="403.00" y="505.10" text-anchor="start" font-family="Liberation Serif" font-size="9.00" font-weight="bold" fill="#000" stroke="#000" stroke-width="0.18" textLength="28.46" lengthAdjust="spacingAndGlyphs">inputs</text>
<text x="403.00" y="514.90" text-anchor="start" font-family="Liberation Serif" font-size="9.00" fill="#333" stroke="#333" stroke-width="0.18" textLength="67.30" lengthAdjust="spacingAndGlyphs">toolpath (object)</text>
<rect x="700.00" y="492.50" width="40.80" height="37.50" rx="4" ry="4" fill="#ececcf" stroke="#353535" stroke-width="1.4"/>
<text x="739.00" y="505.10" text-anchor="end" font-family="Liberation Serif" font-size="9.00" font-weight="bold" fill="#000" stroke="#000" stroke-width="0.18" textLength="34.46" lengthAdjust="spacingAndGlyphs">outputs</text>
<text x="739.00" y="514.80" text-anchor="end" font-family="Liberation Serif" font-size="9.00" fill="#333" stroke="#333" stroke-width="0.18" textLength="33.66" lengthAdjust="spacingAndGlyphs">toolpath</text>
<text x="739.00" y="524.40" text-anchor="end" font-family="Liberation Serif" font-size="9.00" fill="#333" stroke="#333" stroke-width="0.18" textLength="31.09" lengthAdjust="spacingAndGlyphs">(object)</text>
</svg>
</body></html>
